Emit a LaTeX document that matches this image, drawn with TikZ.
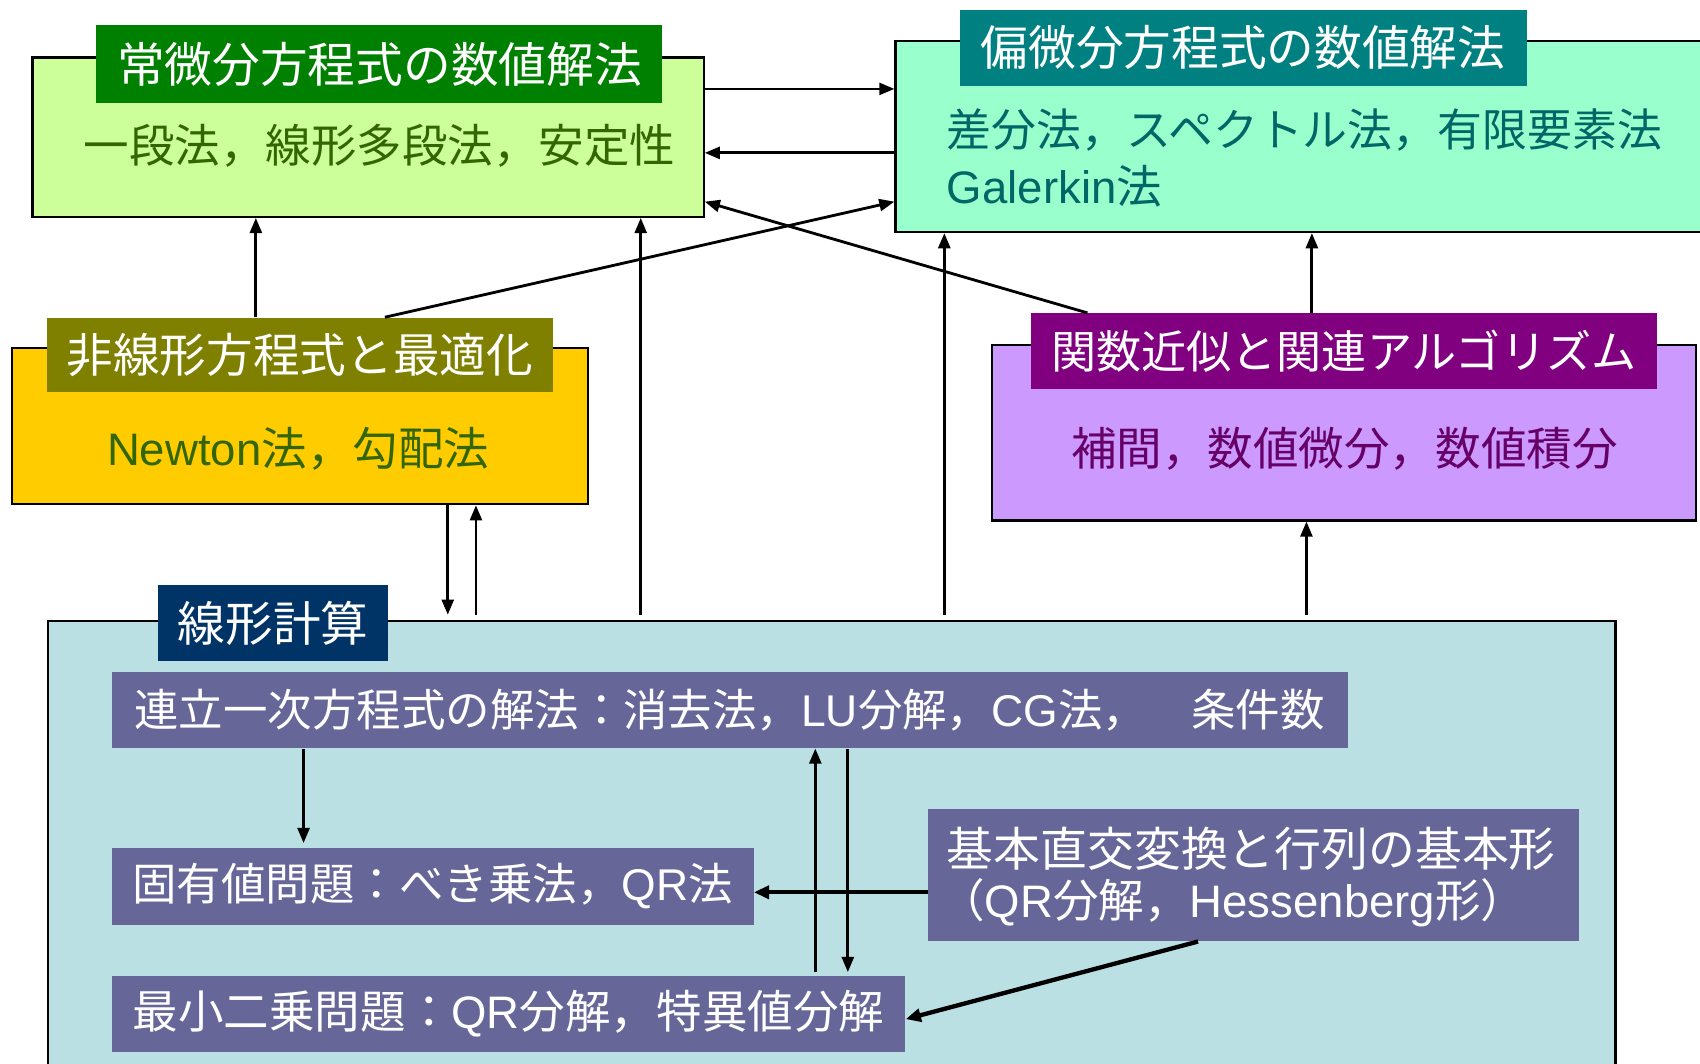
\documentclass[tikz,border=0pt]{standalone}
\usepackage{fontspec}
\setmainfont{Noto Sans CJK JP}
\newfontfamily\lat{Liberation Sans}
\usetikzlibrary{arrows.meta,fit}
\definecolor{odefill}{HTML}{CCFF99}
\definecolor{odetitle}{HTML}{008000}
\definecolor{greentext}{HTML}{336600}
\definecolor{pdefill}{HTML}{99FFCC}
\definecolor{pdetitle}{HTML}{008080}
\definecolor{pdetext}{HTML}{006666}
\definecolor{nlfill}{HTML}{FFCC00}
\definecolor{nltitle}{HTML}{808000}
\definecolor{fafill}{HTML}{CC99FF}
\definecolor{fatitle}{HTML}{800080}
\definecolor{fatext}{HTML}{660066}
\definecolor{lafill}{HTML}{BAE0E3}
\definecolor{latitle}{HTML}{003366}
\definecolor{subfill}{HTML}{666699}
\tikzset{
  bigbox/.style={draw=black, line width=1pt, inner sep=0pt},
  titlebox/.style={inner sep=0pt},
  titletext/.style={inner sep=0pt, text=white, font=\fontsize{22}{26}\selectfont},
  subbox/.style={inner sep=0pt, fill=subfill},
  subtext/.style={inner sep=0pt, text=white, font=\fontsize{20.5}{25}\selectfont},
  bodytext/.style={inner sep=0pt, font=\fontsize{21}{25}\selectfont},
  arr/.style={line width=1.3pt, -{Triangle[length=7pt,width=5.5pt]}},
  thickarr/.style={line width=2pt, -{Triangle[length=7pt,width=6pt]}}
}
\begin{document}
\begin{tikzpicture}[x=0.5pt,y=-0.5pt]
\useasboundingbox (0,0) rectangle (1568,981);
\clip (0,0) rectangle (1568,981);
\fill[white] (0,0) rectangle (1568,981);
% ODE
\node[bigbox, fill=odefill, fit={(30,53) (649,200)}] (ode) {};
\node[titlebox, fill=odetitle, fit={(89,23) (611,95)}] (odet) {};
\node[titletext] (odett) at (odet.center) {常微分方程式の数値解法};
\node[bodytext, text=greentext] (odeb) at (350,134) {一段法，線形多段法，安定性};
% PDE
\node[bigbox, fill=pdefill, fit={(826,38) (1590,214)}] (pde) {};
\node[titlebox, fill=pdetitle, fit={(885,9) (1408,79)}] (pdet) {};
\node[titletext] (pdett) at (pdet.center) {偏微分方程式の数値解法};
\node[bodytext, text=pdetext, anchor=west, font=\fontsize{20.7}{25}\selectfont] (pdeb1) at (873,120) {差分法，スペクトル法，有限要素法};
\node[bodytext, text=pdetext, anchor=west] (pdeb2) at (873,172) {{\lat Galerkin}法};
% Nonlinear
\node[bigbox, fill=nlfill, fit={(11,321) (542,465)}] (nl) {};
\node[titlebox, fill=nltitle, fit={(43,293) (510,362)}] (nlt) {};
\node[titletext, font=\fontsize{21.5}{26}\selectfont] (nltt) at (nlt.center) {非線形方程式と最適化};
\node[bodytext, text=greentext] (nlb) at (275,414) {{\lat Newton}法，勾配法};
% Function approximation
\node[bigbox, fill=fafill, fit={(915,318) (1564,480)}] (fa) {};
\node[titlebox, fill=fatitle, fit={(951,289) (1528,359)}] (fat) {};
\node[titletext, font=\fontsize{20.8}{26}\selectfont] (fatt) at (fat.center) {関数近似と関連アルゴリズム};
\node[bodytext, text=fatext] (fab) at (1240,414) {補間，数値微分，数値積分};
% Linear algebra
\node[bigbox, fill=lafill, fit={(44,573) (1490,1010)}] (la) {};
\node[titlebox, fill=latitle, fit={(146,540) (358,610)}] (lat) {};
\node[titletext] (latt) at (lat.center) {線形計算};
\node[subbox, fit={(103,620) (1243,690)}] (s1) {};
\node[subtext] (s1t) at (s1.center) {連立一次方程式の解法：消去法，{\lat LU}分解，{\lat CG}法，　条件数};
\node[subbox, fit={(103,782) (695,853)}] (s2) {};
\node[subtext] (s2t) at (s2.center) {固有値問題：べき乗法，{\lat QR}法};
\node[subbox, fit={(103,900) (835,970)}] (s3) {};
\node[subtext, font=\fontsize{21}{25}\selectfont] (s3t) at (s3.center) {最小二乗問題：{\lat QR}分解，特異値分解};
\node[subbox, fit={(856,746) (1456,868)}] (s4) {};
\node[subtext, anchor=west, font=\fontsize{21.6}{25}\selectfont] (s4a) at (873,783) {基本直交変換と行列の基本形};
\node[subtext, anchor=west, font=\fontsize{21}{25}\selectfont] (s4b) at (866,833) {（{\lat QR}分解，{\lat Hessenberg}形）};
% arrows between big boxes
\draw[arr] (ode.east |- 0,82) -- (pde.west |- 0,82);
\draw[arr] (pde.west |- 0,141) -- (ode.east |- 0,141);
\draw[arr] (nlt.north -| 355,0) -- (pde.west |- 0,186);
\draw[arr] (fat.north -| 1003,0) -- (ode.east |- 0,186);
\draw[arr] (nlt.north -| 236,0) -- (ode.south -| 236,0);
\draw[arr] (fat.north -| 1210,0) -- (pde.south -| 1210,0);
\draw[arr] ([yshift=2.5pt]la.north -| 591,0) -- (ode.south -| 591,0);
\draw[arr] ([yshift=2.5pt]la.north -| 871,0) -- (pde.south -| 871,0);
\draw[arr] ([yshift=2.5pt]la.north -| 1205,0) -- (fa.south -| 1205,0);
\draw[arr] (nl.south -| 413,0) -- ([yshift=2.5pt]la.north -| 413,0);
\draw[arr] ([yshift=2.5pt]la.north -| 439,0) -- (nl.south -| 439,0);
% arrows inside linear algebra
\draw[arr] (s1.south -| 280,0) -- ([yshift=2pt]s2.north -| 280,0);
\draw[arr] ([yshift=1.5pt]s3.north -| 752,0) -- (s1.south -| 752,0);
\draw[arr] (s1.south -| 782,0) -- ([yshift=1.5pt]s3.north -| 782,0);
\draw[thickarr] (s4.west |- 0,823) -- (s2.east |- 0,823);
\draw[thickarr] (s4.south -| 1105,0) -- (s3.east |- 0,940);
\end{tikzpicture}
\end{document}
